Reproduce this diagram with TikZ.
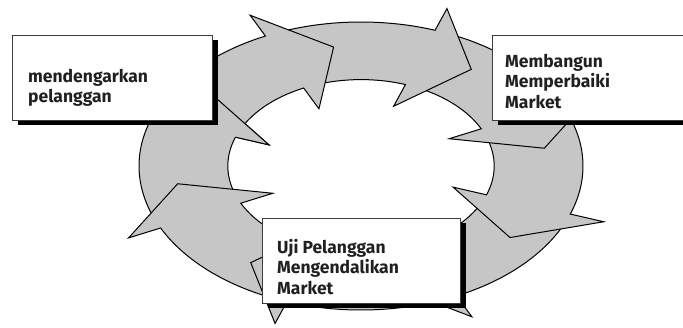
\documentclass[tikz,border=0pt]{standalone}
\usepackage{fontspec}
\newfontfamily\boxfont{Fira Sans}
\usetikzlibrary{shadows}
\definecolor{ringgray}{RGB}{198,198,198}
\definecolor{boxline}{RGB}{60,60,60}
\definecolor{textdark}{RGB}{32,32,32}
\begin{document}
\begin{tikzpicture}[x=1pt,y=1pt,
  ring/.style={fill=ringgray, draw=black, line width=1pt, line join=miter},
  edge/.style={draw=black, line width=1pt, line join=miter},
  boxshape/.style={draw=boxline, fill=white, line width=0.9pt, inner sep=0pt,
    minimum width=200pt, minimum height=85pt, anchor=north west,
    drop shadow={shadow xshift=6pt, shadow yshift=-5pt, fill=black, opacity=1}},
  boxtext/.style={font=\boxfont\bfseries\fontsize{17.5}{20.5}\selectfont,
    text=textdark, align=left, anchor=north west, inner sep=0pt}]
\useasboundingbox (0,0) rectangle (683,327);
% ring of eight arc arrows
\begin{scope}[shift={(361,161)}, xscale=222, yscale=144]
  \foreach \k in {7,6,5,4,3,2,1,0}{
    \pgfmathsetmacro{\b}{115.5-45*\k}
    \pgfmathsetmacro{\s}{\b+43}
    \pgfmathsetmacro{\t}{\b-17}
    \path[ring] (\s:1) arc[start angle=\s, end angle=\b, radius=1]
      -- (\b:1.16) -- (\t:0.835) -- (\b:0.44) -- (\b:0.6)
      arc[start angle=\b, end angle=\s, radius=0.6] -- cycle;
  }
  % head of the last arrow lies over the tail of the first
  \fill[ringgray] (-199.5:1.16) -- (-216.5:0.835) -- (-199.5:0.44) -- cycle;
  \path[edge] (-199.5:1) -- (-199.5:1.16) -- (-216.5:0.835) -- (-199.5:0.44) -- (-199.5:0.6);
\end{scope}
% boxes
\node[boxshape] (b1) at (12,292) {};
\node[boxshape] (b2) at (492,292) {};
\node[boxshape, minimum width=198pt] (b3) at (262,109) {};
\node[boxtext] (t1) at (28,258) {mendengarkan\\pelanggan};
\node[boxtext] (t2) at (505,273) {Membangun\\Memperbaiki\\Market};
\node[boxtext] (t3) at (277,88) {Uji Pelanggan\\Mengendalikan\\Market};
\end{tikzpicture}
\end{document}
